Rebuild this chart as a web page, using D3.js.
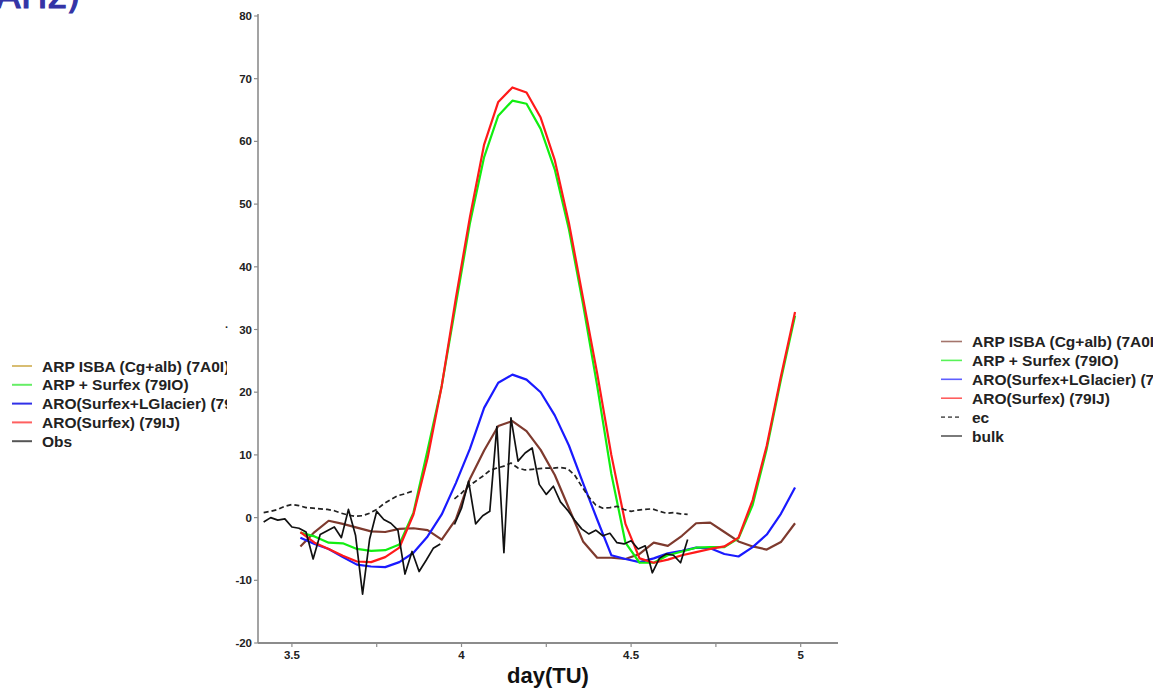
<!DOCTYPE html>
<html>
<head>
<meta charset="utf-8">
<script src="https://cdn.jsdelivr.net/npm/d3@7"></script>
<style>
  html,body{margin:0;padding:0;background:#fff;overflow:hidden;}
  text{font-family:"Liberation Sans",Arial,sans-serif;}
</style>
</head>
<body>
<svg id="chart" width="1153" height="688"></svg>
<script>
/* ----- data -------------------------------------------------- */
// model runs: hourly, day = 3.525 + k/24
const modelStart = 3.525, modelStep = 1/24;
const aroSurfex = [-2.3,-4.0,-5.0,-6.1,-7.0,-7.1,-6.3,-4.8,0.5,9.5,21,35,48,59.5,66.3,68.6,67.8,63.8,57,47,35,23,10,-1,-6.5,-7.2,-6.7,-6.0,-5.5,-5.0,-4.6,-3.2,2.8,11.5,22.5,32.8];
const arpSurfex = [-2.4,-3.0,-4.0,-4.1,-5.0,-5.3,-5.2,-4.3,0.8,10.8,21,34,47,57.5,64.1,66.5,66.0,62,55.5,46,34,21,7,-4,-7.2,-7.2,-6.0,-5.4,-4.8,-4.7,-4.7,-3.3,2.0,11,22,32.2];
const aroGlacier = [-3.2,-4.2,-5.0,-6.3,-7.5,-7.8,-7.9,-7.1,-5.6,-3.0,0.5,5.5,11,17.5,21.5,22.8,22.0,20.0,16.3,11.5,5.5,-0.3,-6.0,-6.6,-7.1,-6.5,-5.7,-5.3,-4.8,-4.9,-5.8,-6.2,-4.7,-2.7,0.6,4.8];
const arpIsba = [-4.6,-2.3,-0.5,-1.0,-1.6,-2.2,-2.3,-1.8,-1.7,-2.0,-3.5,-0.3,6.2,10.7,14.6,15.4,13.8,10.8,6.8,1.5,-3.8,-6.4,-6.4,-6.6,-5.8,-4.0,-4.5,-2.9,-0.9,-0.8,-2.3,-3.8,-4.6,-5.1,-3.9,-0.9];

// observations: half-hourly, day = 3.41667 + j/48 (null = missing)
const obsStart = 3 + 10/24, obsStep = 1/48;
const ecObs = [0.8,1.0,1.3,1.8,2.1,1.9,1.6,1.5,1.4,1.3,1.1,0.7,0.4,0.2,0.3,0.7,1.3,2.2,2.9,3.5,3.8,4.2,
  null,null,null,null,null,
  3.0,3.9,5.0,5.8,6.6,7.5,7.9,8.2,8.7,7.9,7.6,7.7,7.8,7.9,7.9,8.0,7.8,6.8,5.0,3.3,2.0,1.5,1.6,1.8,1.3,1.0,1.2,1.3,1.4,1.0,0.7,0.8,0.6,0.5];
const bulkObs = [-0.7,0.0,-0.4,-0.2,-1.5,-1.7,-2.3,-6.6,-2.7,-2.1,-1.5,-3.2,1.3,-2.8,-12.2,-3.4,1.0,-0.3,-0.9,-2.0,-9.0,-5.4,-8.6,-6.8,-4.9,-4.2,
  null,
  -1.1,1.5,5.8,-1.0,0.3,1.0,14.5,-5.6,15.9,9.0,10.3,11.1,5.3,3.7,5.0,2.5,1.2,-0.4,-1.8,-2.6,-2.0,-2.9,-2.5,-4.0,-4.2,-3.7,-5.0,-4.5,-8.8,-6.5,-5.8,-6.0,-7.2,-3.5];

const xTicksMajor = [3.5, 4, 4.5, 5];
const xTicksMinor = [3.75, 4.25, 4.75];
const yTicks = [-20,-10,0,10,20,30,40,50,60,70,80];

const leftLegend  = ['ARP ISBA (Cg+alb) (7A0I)','ARP + Surfex (79IO)','ARO(Surfex+LGlacier) (79IK)','ARO(Surfex) (79IJ)','Obs'];
const leftColors  = ['#d8bd72','#66ee66','#3030e8','#ff6060','#555555'];
const rightLegend = ['ARP ISBA (Cg+alb) (7A0I)','ARP + Surfex (79IO)','ARO(Surfex+LGlacier) (79IK)','ARO(Surfex) (79IJ)','ec','bulk'];

/* ----- SVG setup -------------------------------------------- */
const svg = d3.select('#chart');
const x = d3.scaleLinear().domain([3.4, 5.11]).range([258, 838]);
const y = d3.scaleLinear().domain([-20, 80]).range([643, 16]);

const series = [
  {vals: arpIsba,    start: modelStart, step: modelStep, color:'#7e3a2e', w:2.2, dash:null},
  {vals: aroGlacier, start: modelStart, step: modelStep, color:'#1a1aff', w:2.2, dash:null},
  {vals: arpSurfex,  start: modelStart, step: modelStep, color:'#11ee11', w:2.2, dash:null},
  {vals: aroSurfex,  start: modelStart, step: modelStep, color:'#ff1a1a', w:2.2, dash:null},
  {vals: ecObs,      start: obsStart,   step: obsStep,   color:'#222222', w:1.7, dash:'5,3'},
  {vals: bulkObs,    start: obsStart,   step: obsStep,   color:'#111111', w:1.7, dash:null}
];
const legendSeries = [0,2,1,3,4,5].map(i => series[i]);

/* ----- title fragment (cropped at top) ----------------------- */
svg.append('text')
  .attr('x', -4).attr('y', 8)
  .style('font-family','"DejaVu Sans"').style('font-size','36px')
  .style('fill','#3434a6').style('stroke','#3434a6').style('stroke-width',1.2)
  .text('AHz)');

/* ----- axes ---------------------------------------------------- */
const axisCol = '#8c8c8c';
svg.append('line').attr('x1',258).attr('x2',258).attr('y1',14).attr('y2',643)
  .attr('stroke',axisCol).attr('stroke-width',1.6);
svg.append('line').attr('x1',258).attr('x2',838).attr('y1',643).attr('y2',643)
  .attr('stroke',axisCol).attr('stroke-width',1.8);

svg.selectAll('.ytick').data(yTicks).join('line')
  .attr('x1',254).attr('x2',258)
  .attr('y1',d=>y(d)).attr('y2',d=>y(d))
  .attr('stroke',axisCol).attr('stroke-width',1.2);
svg.selectAll('.ylab').data(yTicks).join('text')
  .attr('x',252).attr('y',d=>y(d)+4)
  .attr('text-anchor','end')
  .style('font-size','11.5px').style('font-weight','bold').style('fill','#222')
  .text(d=>d);

svg.selectAll('.xtick').data(xTicksMajor.concat(xTicksMinor)).join('line')
  .attr('x1',d=>x(d)).attr('x2',d=>x(d))
  .attr('y1',643).attr('y2',647)
  .attr('stroke',axisCol).attr('stroke-width',1.2);
svg.selectAll('.xlab').data(xTicksMajor).join('text')
  .attr('x',d=>x(d)).attr('y',659)
  .attr('text-anchor','middle')
  .style('font-size','11.5px').style('font-weight','bold').style('fill','#222')
  .text(d=>d);

svg.append('text')
  .attr('x',548).attr('y',683).attr('text-anchor','middle')
  .style('font-size','22px').style('font-weight','bold').style('fill','#111')
  .text('day(TU)');

// stray mark left of the 30 tick
svg.append('text').attr('x',225).attr('y',331)
  .style('font-size','11px').style('font-weight','bold').style('fill','#222')
  .text('·');

/* ----- lines ------------------------------------------------- */
const line = d3.line()
  .defined(d => d.v !== null)
  .x(d => x(d.d)).y(d => y(d.v));

series.forEach(s => {
  const pts = s.vals.map((v,i) => ({d: s.start + i*s.step, v}));
  svg.append('path')
    .datum(pts)
    .attr('d', line)
    .attr('fill','none')
    .attr('stroke', s.color)
    .attr('stroke-width', s.w)
    .attr('stroke-dasharray', s.dash)
    .attr('stroke-linejoin','round');
});

/* ----- legends ----------------------------------------------- */
svg.append('clipPath').attr('id','clipLeft')
  .append('rect').attr('x',0).attr('y',340).attr('width',227).attr('height',120);

const Ll = svg.append('g').attr('clip-path','url(#clipLeft)');
leftLegend.forEach((t,i) => {
  const yy = 366 + i*18.8;
  Ll.append('line').attr('x1',12).attr('x2',32).attr('y1',yy).attr('y2',yy)
    .attr('stroke',leftColors[i]).attr('stroke-width',2);
  Ll.append('text').attr('x',42).attr('y',yy+5.5)
    .style('font-size','15.5px').style('font-weight','bold').style('fill','#222')
    .text(t);
});

const Lr = svg.append('g');
rightLegend.forEach((t,i) => {
  const yy = 341.5 + i*18.9, s = legendSeries[i];
  Lr.append('line').attr('x1',941).attr('x2',962).attr('y1',yy).attr('y2',yy)
    .attr('stroke',s.color).attr('stroke-width',1.6)
    .attr('stroke-opacity',0.7)
    .attr('stroke-dasharray',s.dash ? '4,3' : null);
  Lr.append('text').attr('x',972).attr('y',yy+5.5)
    .style('font-size','15.5px').style('font-weight','bold').style('fill','#222')
    .text(t);
});
</script>
</body>
</html>
